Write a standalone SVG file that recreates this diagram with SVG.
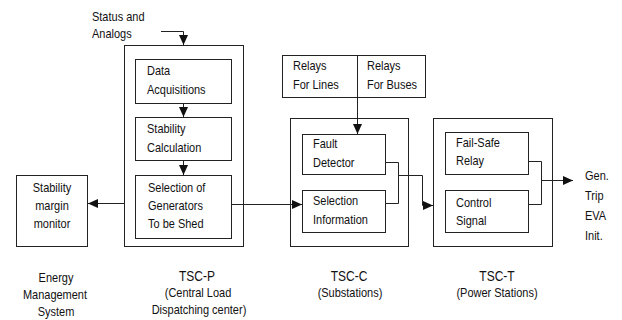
<svg xmlns="http://www.w3.org/2000/svg" width="622" height="320" viewBox="0 0 622 320">
<style>
text{font-family:"Liberation Sans",Arial,sans-serif;font-size:11px;fill:#111;transform-box:fill-box;transform-origin:50% 85%;transform:scaleY(1.22)}
.t{font-size:12px}
.m{text-anchor:middle}
rect{fill:none;stroke:#222;stroke-width:1}
.c{fill:none;stroke:#222;stroke-width:1}
</style>
<defs>
<marker id="ah" markerWidth="11" markerHeight="11" refX="10" refY="5.5" orient="auto" markerUnits="userSpaceOnUse">
<path d="M0,1 L10,5.5 L0,10 Z" fill="#111"/>
</marker>
</defs>
<rect x="0" y="0" width="622" height="320" style="fill:#fff;stroke:none"/>

<g id="status-label">
<text x="92" y="21">Status and</text>
<text x="92" y="38">Analogs</text>
</g>

<g id="tsc-p">
<rect x="124.5" y="45.5" width="119" height="201"/>
<text class="t m" x="197" y="281">TSC-P</text>
<text class="m" x="198" y="297">(Central Load</text>
<text class="m" x="199" y="314">Dispatching center)</text>
</g>
<g id="data-acq">
<rect x="135.5" y="59.5" width="96" height="44"/>
<text x="147" y="75">Data</text>
<text x="147" y="94">Acquisitions</text>
</g>
<g id="stab-calc">
<rect x="135.5" y="117.5" width="96" height="43"/>
<text x="147" y="133">Stability</text>
<text x="147" y="152">Calculation</text>
</g>
<g id="sel-gen">
<rect x="135.5" y="175.5" width="96" height="63"/>
<text x="148" y="192">Selection of</text>
<text x="148" y="210">Generators</text>
<text x="148" y="228">To be Shed</text>
</g>

<g id="monitor">
<rect x="16.5" y="175.5" width="71" height="71"/>
<text class="m" x="52" y="192">Stability</text>
<text class="m" x="52" y="210">margin</text>
<text class="m" x="52" y="228">monitor</text>
<text class="m" x="56" y="282">Energy</text>
<text class="m" x="55" y="299">Management</text>
<text class="m" x="56" y="316">System</text>
</g>

<g id="relays">
<rect x="282.5" y="55.5" width="143" height="42"/>
<line class="c" x1="357.5" y1="55.5" x2="357.5" y2="97.5"/>
<text x="293" y="70">Relays</text>
<text x="293" y="89">For Lines</text>
<text x="367" y="70">Relays</text>
<text x="367" y="89">For Buses</text>
</g>

<g id="tsc-c">
<rect x="290.5" y="118.5" width="118" height="128"/>
<text class="t m" x="349" y="281">TSC-C</text>
<text class="m" x="350" y="297">(Substations)</text>
</g>
<g id="fault-det">
<rect x="302.5" y="134.5" width="83" height="40"/>
<text x="313" y="148">Fault</text>
<text x="313" y="167">Detector</text>
</g>
<g id="sel-info">
<rect x="302.5" y="190.5" width="83" height="42"/>
<text x="313" y="205">Selection</text>
<text x="313" y="224">Information</text>
</g>

<g id="tsc-t">
<rect x="433.5" y="118.5" width="119" height="128"/>
<text class="t m" x="497" y="281">TSC-T</text>
<text class="m" x="497" y="297">(Power Stations)</text>
</g>
<g id="fail-safe">
<rect x="445.5" y="132.5" width="83" height="42"/>
<text x="456" y="147">Fail-Safe</text>
<text x="456" y="165">Relay</text>
</g>
<g id="ctrl-sig">
<rect x="445.5" y="190.5" width="83" height="42"/>
<text x="456" y="207">Control</text>
<text x="456" y="225">Signal</text>
</g>

<g id="output-label">
<text x="585" y="180">Gen.</text>
<text x="585" y="200">Trip</text>
<text x="585" y="220">EVA</text>
<text x="585" y="240">Init.</text>
</g>

<g id="connectors">
<polyline class="c" points="161,31.5 183.5,31.5 183.5,45" marker-end="url(#ah)"/>
<line class="c" x1="183.5" y1="104" x2="183.5" y2="117" marker-end="url(#ah)"/>
<line class="c" x1="183.5" y1="161" x2="183.5" y2="175" marker-end="url(#ah)"/>
<line class="c" x1="124" y1="203.5" x2="88" y2="203.5" marker-end="url(#ah)"/>
<line class="c" x1="232" y1="204.5" x2="302" y2="204.5" marker-end="url(#ah)"/>
<line class="c" x1="357.5" y1="98" x2="357.5" y2="134" marker-end="url(#ah)"/>
<polyline class="c" points="386,162.5 398.5,162.5 398.5,203.5 386,203.5"/>
<polyline class="c" points="398.5,175.5 422.5,175.5 422.5,205.5 433,205.5" marker-end="url(#ah)"/>
<polyline class="c" points="529,161.5 541.5,161.5 541.5,204.5 529,204.5"/>
<line class="c" x1="541.5" y1="180.5" x2="573" y2="180.5" marker-end="url(#ah)"/>
</g>
</svg>
